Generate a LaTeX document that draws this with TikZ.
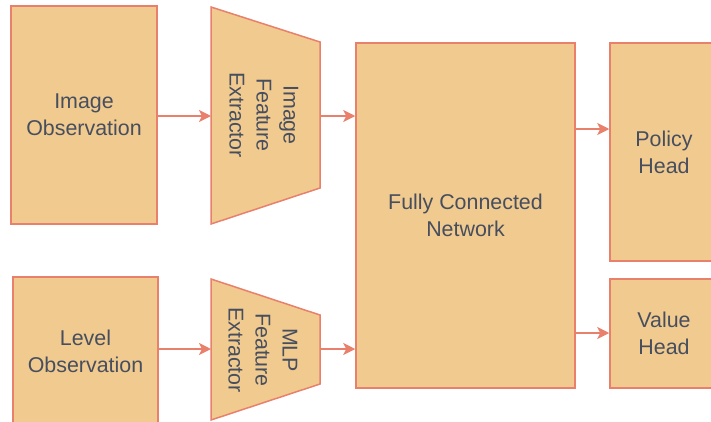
\documentclass[tikz,border=0pt]{standalone}
\usepackage{fontspec}
\setmainfont{Liberation Sans}
\usetikzlibrary{arrows.meta,calc}
\definecolor{boxfill}{HTML}{F0CA8E}
\definecolor{boxline}{HTML}{E8806C}
\definecolor{txt}{HTML}{474E5E}
\begin{document}
\begin{tikzpicture}[x=1pt,y=-1pt,
  blk/.style={draw=boxline,fill=boxfill,line width=1.5pt,inner sep=0pt,align=center,text=txt,font=\fontsize{21.4}{27}\selectfont},
  lbl/.style={align=center,text=txt,font=\fontsize{21.4}{27}\selectfont,inner sep=0pt},
  arr/.style={draw=boxline,line width=1.5pt,-{Stealth[length=12pt,width=12pt,inset=3pt]}}]
\useasboundingbox (0,0) rectangle (711,421);
\clip (0,0) rectangle (711,421);
% boxes
\node[blk,minimum width=146pt,minimum height=218pt] (io) at (84,115) {Image\\Observation};
\node[blk,minimum width=145pt,minimum height=148pt] (lo) at (85.5,351) {Level\\Observation};
\node[blk,minimum width=219pt,minimum height=345pt] (fc) at (465.5,215.5) {Fully Connected\\Network};
\node[blk,minimum width=108pt,minimum height=218pt] (ph) at (664,152) {Policy\\Head};
\node[blk,minimum width=108pt,minimum height=109pt] (vh) at (664,333.5) {Value\\Head};
% trapezoids
\filldraw[draw=boxline,fill=boxfill,line width=1.5pt,line join=miter] (211,7) -- (320,42) -- (320,188) -- (211,224) -- cycle;
\node[lbl,rotate=-90] (ife) at (264,115) {Image\\Feature\\Extractor};
\coordinate (ifeW) at (211,116);
\coordinate (ifeE) at (320,116);
\filldraw[draw=boxline,fill=boxfill,line width=1.5pt,line join=miter] (211,279) -- (320,315) -- (320,384) -- (211,420) -- cycle;
\node[lbl,rotate=-90] (mfe) at (263,350) {MLP\\Feature\\Extractor};
\coordinate (mfeW) at (211,349);
\coordinate (mfeE) at (320,349);
% connectors
\draw[arr] (io.east |- ifeW) -- (ifeW);
\draw[arr] (ifeE) -- (ifeE -| fc.west);
\draw[arr] (lo.east |- mfeW) -- (mfeW);
\draw[arr] (mfeE) -- (mfeE -| fc.west);
\coordinate (p1) at (575,129);
\coordinate (v1) at (575,333);
\draw[arr] (p1 -| fc.east) -- (p1 -| ph.west);
\draw[arr] (v1 -| fc.east) -- (v1 -| vh.west);
\end{tikzpicture}
\end{document}
